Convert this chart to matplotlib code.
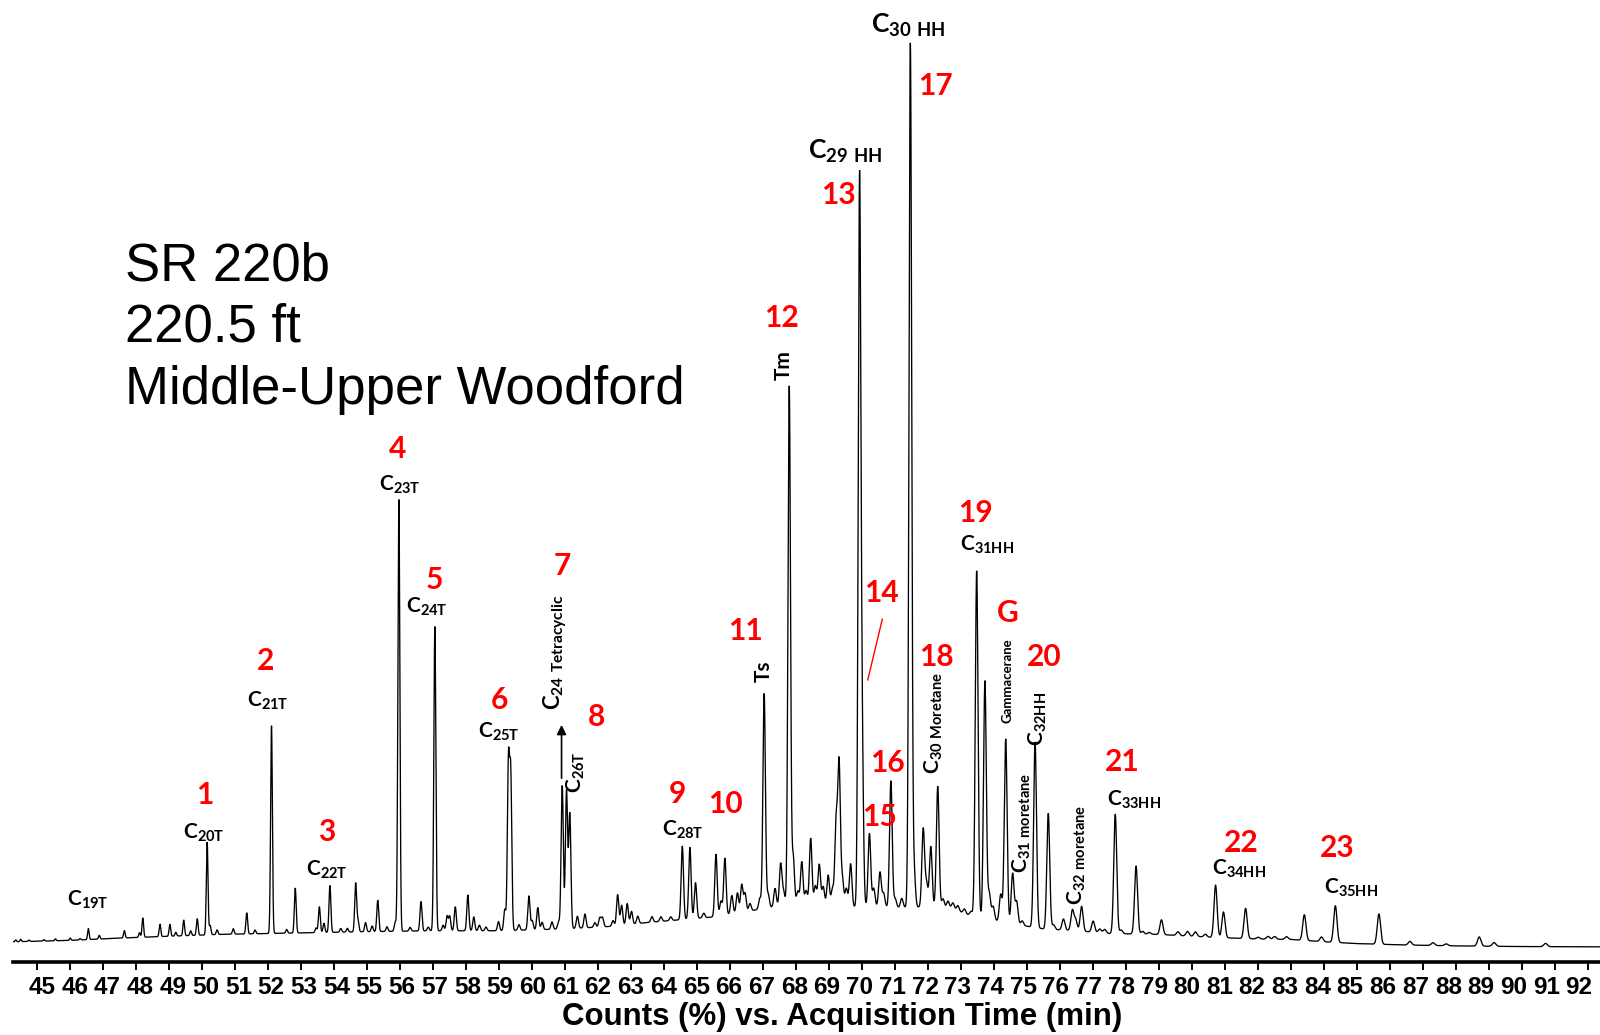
import numpy as np
import matplotlib
matplotlib.use("Agg")
import matplotlib.pyplot as plt
from matplotlib.transforms import ScaledTranslation

# ---- chromatogram data (m/z 191, retention time in minutes, counts in %) ----
peak_time = [
    44.35, 44.50, 44.75, 45.20, 45.55, 46.00, 46.30,
    46.55, 46.88, 47.64, 48.10, 48.20, 48.72, 49.02, 49.20, 49.44, 49.65,
    49.85, 50.15, 50.24, 50.45, 50.94, 51.35, 51.60, 52.10, 52.56, 52.82,
    53.45, 53.55, 53.69, 53.87, 54.20, 54.40, 54.65, 54.72, 54.95, 55.15,
    55.32, 55.60, 55.85, 55.96, 56.30, 56.63, 56.85, 57.05, 57.30, 57.42,
    57.50, 57.67, 58.05, 58.23, 58.40, 58.60, 58.98, 59.17, 59.28, 59.35,
    59.60, 59.90, 60.00, 60.17, 60.30, 60.60, 60.80, 60.91, 61.04, 61.14,
    61.37, 61.60, 61.90, 62.05, 62.13, 62.45, 62.59, 62.71, 62.88, 63.01,
    63.20, 63.63, 63.90, 64.20, 64.55, 64.78, 64.95, 65.20, 65.57, 65.72,
    65.84, 66.05, 66.22, 66.35, 66.45, 66.60, 66.90, 67.03, 67.15, 67.36,
    67.53, 67.62, 67.79, 67.91, 68.05, 68.17, 68.30, 68.44, 68.58, 68.70,
    68.82, 68.97, 69.10, 69.21, 69.30, 69.40, 69.52, 69.65, 69.92, 70.00,
    70.22, 70.35, 70.54, 70.65, 70.87, 71.00, 71.20, 71.46, 71.57, 71.85,
    71.95, 72.08, 72.29, 72.45, 72.60, 72.75, 72.90, 73.10, 73.30, 73.47,
    73.72, 73.85, 73.97, 74.20, 74.35, 74.56, 74.68, 74.85, 75.24, 75.64,
    75.80, 76.10, 76.37, 76.47, 76.65, 77.00, 77.20, 77.35, 77.67, 77.85,
    78.30, 78.50, 78.70, 79.07, 79.57, 79.86, 80.10, 80.40, 80.71, 80.95,
    81.62, 82.00, 82.30, 82.50, 82.86, 83.40, 83.92, 84.34, 85.66, 86.60,
    87.30, 87.70, 88.70, 89.15, 90.71,
]
peak_height = [
    0.2, 0.25, 0.15, 0.15, 0.2, 0.25, 0.15,
    1.2, 0.4, 0.8, 0.5, 2.1, 1.35, 1.3, 0.4, 1.7, 0.5,
    1.8, 10.1, 1.0, 0.5, 0.6, 2.3, 0.4, 22.6, 0.4, 4.9,
    0.5, 2.8, 1.0, 5.1, 0.4, 0.4, 5.3, 1.2, 1.0, 0.6,
    3.4, 0.5, 1.0, 47.0, 0.4, 3.2, 0.4, 33.1, 0.6, 1.6,
    1.6, 2.6, 3.9, 1.5, 0.6, 0.4, 1.0, 2.3, 18.0, 16.5,
    0.6, 3.7, 1.0, 2.4, 0.8, 0.8, 0.8, 15.6, 15.0, 12.5,
    1.3, 1.5, 0.5, 1.0, 1.0, 0.6, 3.4, 2.2, 2.3, 1.4,
    0.8, 0.6, 0.5, 0.4, 8.0, 7.8, 3.9, 0.5, 6.8, 1.6,
    6.2, 2.0, 2.2, 3.0, 2.0, 0.8, 1.2, 23.4, 1.5, 2.0,
    4.6, 1.5, 56.5, 5.3, 1.5, 4.7, 1.5, 7.2, 2.0, 4.4,
    2.0, 3.3, 1.8, 9.0, 15.5, 3.0, 2.0, 4.7, 78.0, 16.0,
    8.0, 2.0, 3.8, 1.5, 13.8, 1.0, 1.0, 94.0, 4.0, 8.5,
    2.5, 6.6, 13.2, 1.0, 0.8, 0.7, 0.6, 0.5, 0.5, 37.7,
    25.9, 2.9, 1.5, 3.0, 20.0, 5.5, 2.5, 0.5, 20.2, 12.6,
    0.5, 1.2, 2.2, 1.2, 2.7, 1.2, 0.4, 0.4, 13.0, 0.4,
    7.4, 0.3, 0.2, 1.6, 0.4, 0.5, 0.5, 0.3, 5.7, 2.8,
    3.3, 0.2, 0.3, 0.3, 0.3, 2.8, 0.5, 4.0, 3.3, 0.4,
    0.3, 0.2, 1.0, 0.4, 0.35,
]
baseline_time = [44.3, 46.0, 47.5, 49.0, 50.5, 52.0, 53.5, 55.0, 57.0, 59.0,
                 61.0, 62.5, 63.5, 64.5, 65.5, 66.5, 67.5, 68.5, 69.5, 70.5,
                 71.0, 72.0, 72.7, 73.3, 74.0, 74.8, 75.5, 76.5, 77.5, 79.0,
                 80.5, 82.0, 83.0, 84.0, 85.0, 86.5, 88.0, 90.0, 92.4]
baseline_level = [2.2, 2.35, 2.6, 2.8, 3.0, 3.1, 3.2, 3.3, 3.4, 3.4,
                  3.6, 3.9, 4.3, 4.6, 4.9, 5.5, 6.1, 6.3, 6.0, 6.0,
                  5.9, 6.0, 5.8, 5.0, 4.5, 4.0, 3.6, 3.4, 3.1, 3.0,
                  2.7, 2.5, 2.45, 2.2, 2.0, 1.85, 1.75, 1.68, 1.65]
tick_minutes = list(range(45, 93))

# ---- fonts ----
plt.rcParams["mathtext.default"] = "regular"
LABEL_FONT = ["Lato", "DejaVu Sans"]
AXIS_FONT = ["Liberation Sans", "DejaVu Sans"]
RED = "#ff0000"

W, H = 1600, 1035
fig = plt.figure(figsize=(W / 100, H / 100), dpi=100)
ax = fig.add_axes([12.8 / W, (H - 962) / H, 1 - 12.8 / W, 962 / H])

# ---- trace: baseline plus one gaussian per resolved peak ----
t = np.arange(44.27, 92.36, 0.003)
signal = np.interp(t, baseline_time, baseline_level)
for tp, h in zip(peak_time, peak_height):
    sigma = 0.022 + 0.0007 * (tp - 45.0)
    signal = signal + h * np.exp(-0.5 * ((t - tp) / sigma) ** 2)
ax.plot(t, signal, color="black", lw=0.95, solid_joinstyle="miter")

ax.set_xlim(44.26, 92.36)
ax.set_ylim(0, 962 / 9.19)
for side in ("left", "right", "top"):
    ax.spines[side].set_visible(False)
ax.spines["bottom"].set_linewidth(2.6)
ax.set_yticks([])
ax.set_xticks(tick_minutes)
ax.set_xticklabels([str(m) for m in tick_minutes])
ax.tick_params(axis="x", direction="out", length=6, width=1.4, pad=4,
               labelsize=17.5)
n = len(tick_minutes)
for i, lab in enumerate(ax.get_xticklabels()):
    lab.set_family(AXIS_FONT)
    lab.set_fontweight("bold")
    dx = (5.0 - 14.0 * i / (n - 1)) / 100.0
    lab.set_transform(lab.get_transform()
                      + ScaledTranslation(dx, 0, fig.dpi_scale_trans))
ax.set_xlabel("Counts (%) vs. Acquisition Time (min)", family=AXIS_FONT,
              fontweight="bold", fontsize=22.5)
ax.xaxis.set_label_coords((842 - 12.8) / (W - 12.8), -0.042)

# ---- sample description ----
for txt, ybase in (("SR 220b", 280.6), ("220.5 ft", 342.0),
                   ("Middle-Upper Woodford", 404.0)):
    fig.text(125.5 / W, 1 - ybase / H, txt, family=["Liberation Sans"],
             fontsize=38, ha="left", va="baseline")

# ---- compound labels ----
def black(txt, x, y, size=15, rot=0):
    ax.text(x, y, txt, family=LABEL_FONT, fontweight="bold", fontsize=size,
            ha="center", va="center", rotation=rot, color="black")

def red(txt, x, y):
    ax.text(x, y, txt, family=LABEL_FONT, fontweight="bold", fontsize=21.5,
            ha="center", va="center", color=RED)

black("C$_{19T}$", 46.54, 6.75)
black("C$_{20T}$", 50.04, 14.1)
black("C$_{21T}$", 51.99, 28.4)
black("C$_{22T}$", 53.77, 10.0)
black("C$_{23T}$", 55.99, 51.9)
black("C$_{24T}$", 56.80, 38.6)
black("C$_{25T}$", 58.99, 25.0)
black("C$_{24\\ Tetracyclic}$", 60.69, 33.7, size=16, rot=90)
black("C$_{26T}$", 61.33, 20.6, rot=90)
black("C$_{28T}$", 64.57, 14.4)
black("Ts", 67.01, 31.6, rot=90)
black("Tm", 67.63, 65.0, rot=90)
black("C$_{29\\ HH}$", 69.48, 88.2, size=19)
black("C$_{30\\ HH}$", 71.40, 101.9, size=19)
black("C$_{30\\ Moretane}$", 72.18, 26.0, rot=90)
black("C$_{31HH}$", 73.80, 45.4)
black("Gammacerane", 74.40, 30.6, size=9.5, rot=90)
black("C$_{32HH}$", 75.33, 26.4, rot=90)
black("C$_{31\\ moretane}$", 74.84, 15.1, rot=90)
black("C$_{32\\ moretane}$", 76.51, 11.6, rot=90)
black("C$_{33HH}$", 78.24, 17.6)
black("C$_{34HH}$", 81.42, 10.1)
black("C$_{35HH}$", 84.81, 8.05)

for txt, x, y in (("1", 50.08, 18.2), ("2", 51.93, 32.8), ("3", 53.77, 14.1),
                  ("4", 55.93, 55.8), ("5", 57.05, 41.6), ("6", 59.02, 28.5),
                  ("7", 60.90, 43.1), ("8", 61.94, 26.7), ("9", 64.39, 18.3),
                  ("10", 65.84, 17.2), ("11", 66.45, 36.0), ("12", 67.54, 70.1),
                  ("13", 69.27, 83.5), ("14", 70.59, 40.2), ("15", 70.51, 15.8),
                  ("16", 70.78, 21.7), ("17", 72.21, 95.3), ("18", 72.24, 33.2),
                  ("19", 73.42, 48.9), ("G", 74.42, 38.0), ("20", 75.51, 33.2),
                  ("21", 77.87, 21.8), ("22", 81.48, 12.9), ("23", 84.39, 12.4)):
    red(txt, x, y)

# arrow pointing up to the C24 tetracyclic label, and leader line for peak 14
ax.annotate("", xy=(60.89, 25.8), xytext=(60.89, 20.0),
            arrowprops=dict(arrowstyle="-|>", color="black", lw=1.2,
                            mutation_scale=14, shrinkA=0, shrinkB=0))
ax.plot([70.61, 70.17], [37.3, 30.7], color=RED, lw=1.0)

fig.savefig("out.png", dpi=100, facecolor="white")
